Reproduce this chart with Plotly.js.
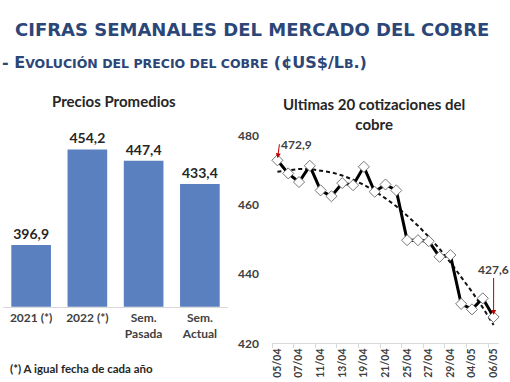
<!DOCTYPE html>
<html>
<head>
<meta charset="utf-8">
<script src="https://cdn.plot.ly/plotly-2.35.2.min.js"></script>
<style>html,body{margin:0;padding:0;background:#fff;}#chart{width:510px;height:382px;}</style>
</head>
<body>
<div id="chart"></div>
<script>
// Bar chart data
var barCategories = ["2021 (*)", "2022 (*)", "Sem.<br>Pasada", "Sem.<br>Actual"];
var barValues = [396.9, 454.2, 447.4, 433.4];

// Line chart data (last 21 quotes)
var dates = ["05/04","06/04","07/04","08/04","11/04","12/04","13/04","14/04","19/04","20/04","21/04",
             "22/04","25/04","26/04","27/04","28/04","29/04","03/05","04/05","05/05","06/05"];
var prices = [472.9, 469.1, 466.6, 471.3, 464.2, 462.5, 466.3, 465.7, 471.0, 463.8, 465.9,
              464.2, 449.8, 449.8, 449.5, 445.0, 445.5, 431.4, 429.8, 433.0, 427.6];
// Trend line
var trend = [469.6, 470.1, 470.4, 470.4, 470.0, 469.4, 468.5, 467.3, 465.8, 464.0, 461.9,
             459.6, 456.9, 454.0, 450.8, 447.3, 443.4, 439.3, 434.9, 430.3, 425.3];

var W = 510, H = 382;
function px(x){ return x / W; }
function py(y){ return 1 - y / H; }

var fam = "Lato, 'Open Sans', sans-serif";
var navy = "#2B4677";

var traces = [
  {
    type: "bar", x: barCategories, y: barValues, xaxis: "x", yaxis: "y",
    marker: {color: "#5A80C0"},
    text: barValues, texttemplate: "%{y:.1f}", textposition: "outside",
    textfont: {family: fam, size: 14, color: "#262626", weight: "bold"},
    cliponaxis: false, hoverinfo: "skip"
  },
  {
    type: "scatter", mode: "lines", x: dates, y: trend, xaxis: "x2", yaxis: "y2",
    line: {color: "#111", width: 2, dash: "4px,3px"}, hoverinfo: "skip"
  },
  {
    type: "scatter", mode: "lines+markers", x: dates, y: prices, xaxis: "x2", yaxis: "y2",
    line: {color: "#000", width: 3},
    marker: {symbol: "diamond", size: 8.5, color: "#fff", line: {color: "#777", width: 1}},
    hoverinfo: "skip", cliponaxis: false
  }
];

var layout = {
  width: W, height: H,
  margin: {l: 0, r: 0, t: 0, b: 0},
  paper_bgcolor: "#fff", plot_bgcolor: "#fff",
  showlegend: false,
  separators: ",.",
  bargap: 0.295,
  xaxis: {
    domain: [px(3), px(228)], type: "category",
    showline: true, linecolor: "#d9d9d9", linewidth: 1,
    ticks: "", tickfont: {family: fam, size: 12, color: "#404040", weight: "bold"},
    fixedrange: true
  },
  yaxis: {
    domain: [py(306.7), py(123)], range: [360, 470],
    visible: false, showgrid: false, zeroline: false
  },
  xaxis2: {
    domain: [px(272), px(499)], type: "category", anchor: "y2",
    range: [-0.5, 20.5], tickmode: "linear", tick0: 0, dtick: 2,
    tickangle: -90, showline: true, linecolor: "#d9d9d9", linewidth: 1,
    ticks: "outside", ticklen: 4, tickcolor: "#d9d9d9", tickson: "boundaries",
    tickfont: {family: fam, size: 10.5, color: "#404040", weight: "bold"},
    showgrid: false
  },
  yaxis2: {
    domain: [py(343.3), py(135.7)], range: [420, 480], anchor: "x2",
    tickmode: "linear", tick0: 420, dtick: 20,
    showgrid: false, zeroline: false, showline: false, ticks: "",
    ticklabelstandoff: 12,
    tickfont: {family: fam, size: 12, color: "#404040", weight: "bold"}
  },
  annotations: [
    {xref: "paper", yref: "paper", x: px(252), y: py(29), xanchor: "center", yanchor: "middle",
     text: "<b>CIFRAS SEMANALES DEL MERCADO DEL COBRE</b>", showarrow: false,
     font: {family: "'DejaVu Sans', Verdana, sans-serif", size: 18, color: navy}},
    {xref: "paper", yref: "paper", x: 0, y: py(62), xanchor: "left", yanchor: "middle",
     text: "<b>- E<span style='font-size:12.5px'>VOLUCIÓN DEL PRECIO DEL COBRE</span> (¢US$/L<span style='font-size:12.5px'>B</span>.)</b>",
     showarrow: false,
     font: {family: "'DejaVu Sans', Verdana, sans-serif", size: 16, color: navy}},
    {xref: "paper", yref: "paper", x: px(114), y: py(101), xanchor: "center", yanchor: "middle",
     text: "<b>Precios Promedios</b>", showarrow: false,
     font: {family: fam, size: 15, color: "#262626"}},
    {xref: "paper", yref: "paper", x: px(374), y: py(114), xanchor: "center", yanchor: "middle",
     text: "<b>Ultimas 20 cotizaciones del<br>cobre</b>", showarrow: false,
     font: {family: fam, size: 15, color: "#262626"}},
    {xref: "paper", yref: "paper", x: px(8), y: py(368), xanchor: "left", yanchor: "middle",
     text: "<b>(*) A igual fecha de cada año</b>", showarrow: false,
     font: {family: fam, size: 11.5, color: "#262626"}},
    {xref: "x2", yref: "y2", x: dates[0], y: prices[0], text: "<b>472,9</b>",
     showarrow: true, arrowhead: 2, arrowsize: 1, arrowwidth: 1, arrowcolor: "#C00000",
     ax: 2, ay: -16, xanchor: "left", yanchor: "middle", standoff: 2,
     font: {family: fam, size: 12, color: "#404040"}},
    {xref: "x2", yref: "y2", x: dates[dates.length - 1], y: prices[prices.length - 1], text: "<b>427,6</b>",
     showarrow: true, arrowhead: 2, arrowsize: 1, arrowwidth: 1, arrowcolor: "#C00000",
     ax: 0, ay: -48, standoff: 2,
     font: {family: fam, size: 12, color: "#404040"}}
  ]
};

Plotly.newPlot("chart", traces, layout, {staticPlot: true, displayModeBar: false});
</script>
</body>
</html>
